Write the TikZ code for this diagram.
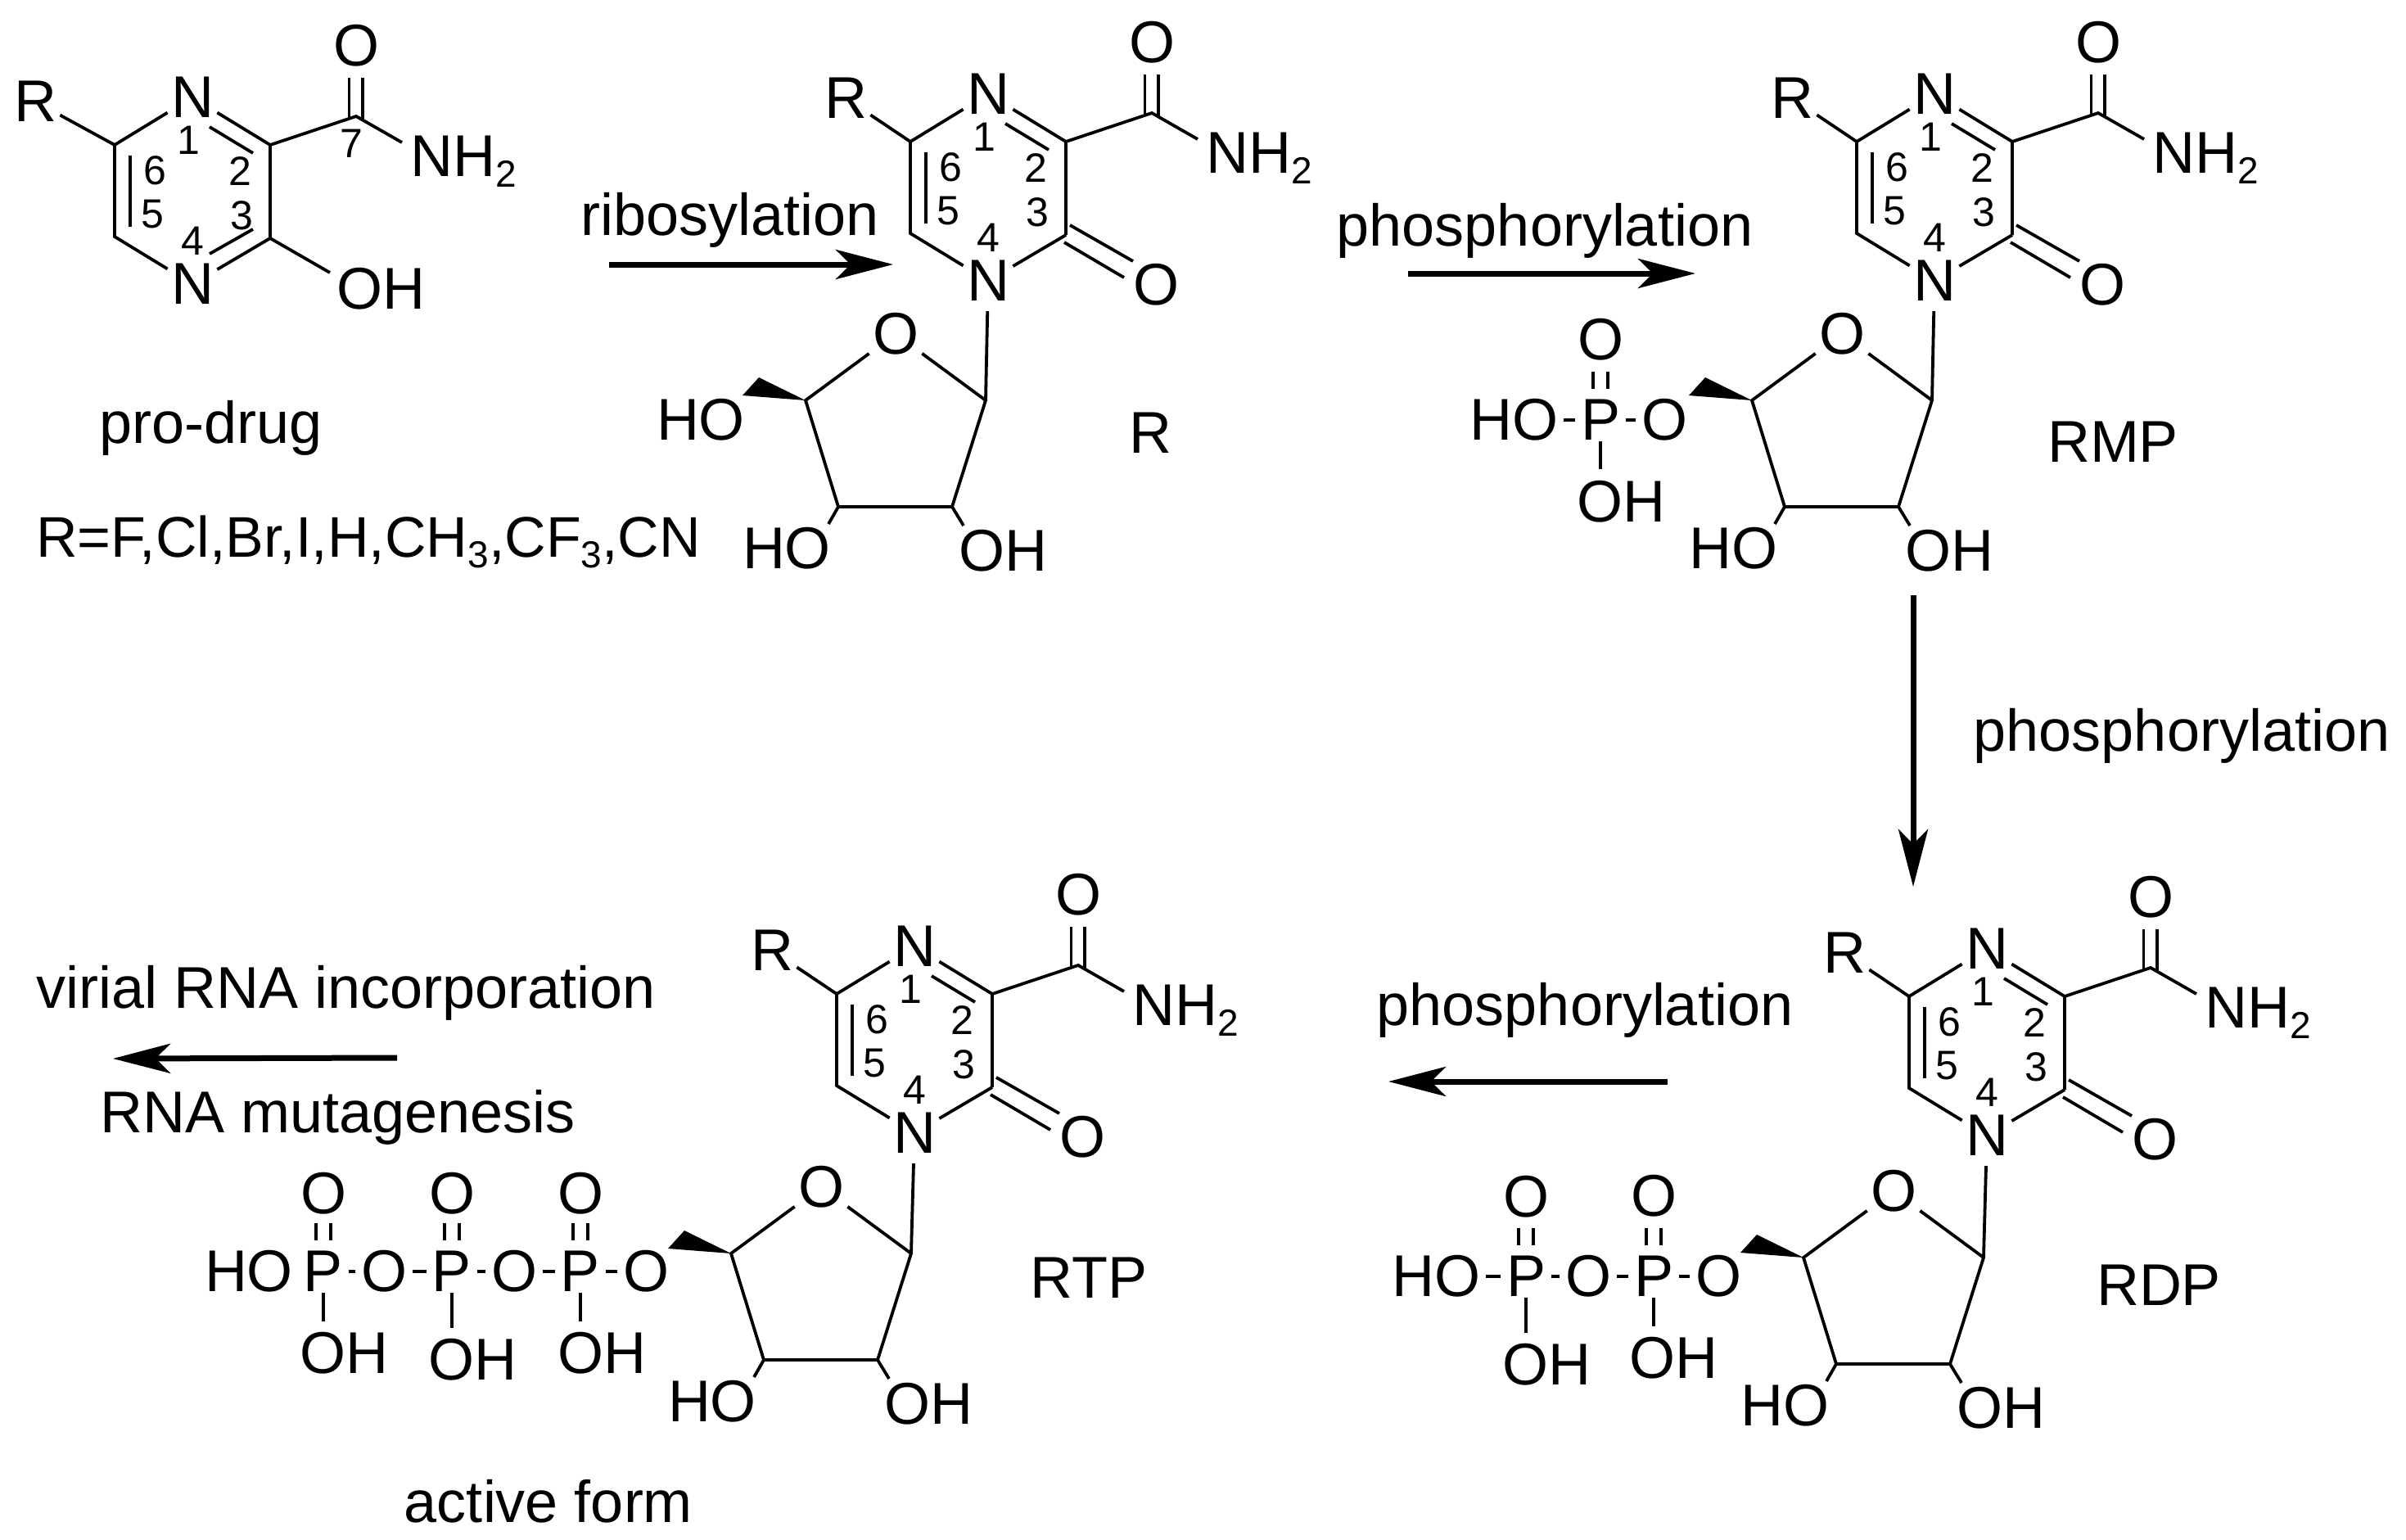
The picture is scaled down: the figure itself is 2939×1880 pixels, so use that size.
\documentclass[tikz,border=0pt]{standalone}
\usepackage{fontspec}
\setmainfont{Liberation Sans}
\usetikzlibrary{arrows.meta}
\newcommand{\bigf}{\fontsize{36}{40}\selectfont}
\newcommand{\listf}{\fontsize{35}{40}\selectfont}
\newcommand{\smallf}{\fontsize{25}{28}\selectfont}
\newcommand{\subf}{\fontsize{23}{26}\selectfont}
\newcommand{\subs}[1]{\raisebox{-6.5pt}{\subf #1}}
\tikzset{
  atom/.style={inner sep=2pt,font=\bigf},
  patom/.style={inner sep=3.5pt,font=\bigf},
  lab/.style={inner sep=0pt,font=\bigf},
  num/.style={inner sep=0pt,font=\smallf},
  bond/.style={line width=1.9pt,line cap=butt,line join=miter},
  thin bond/.style={line width=1.7pt},
  rxn/.style={line width=3.5pt,-{Stealth[length=35pt,width=18pt,inset=9pt]}},
  wedge/.style={fill=black,draw=none}
}
% ring: name, dx, dy, R x
\newcommand{\ringcore}[4]{%
\begin{scope}[shift={(#2,#3)}]
 \coordinate (#1c6) at (140,177); \coordinate (#1c2) at (330,177);
 \coordinate (#1c3) at (330,291); \coordinate (#1c5) at (140,289);
 \coordinate (#1c7) at (435,142);
 \node[atom] (#1n1) at (235,119) {N};
 \node[atom] (#1n4) at (235,347) {N};
 \node[atom] (#1r) at (#4,124) {R};
 \node[atom] (#1o7) at (435,56) {O};
 \node[lab,anchor=west] (#1nh) at (501,197) {NH\subs{2}};
 \coordinate (#1nhb) at (491,174);
 \coordinate (#1i1) at (256,155); \coordinate (#1i2) at (309,187);
 \coordinate (#1i3) at (159,190); \coordinate (#1i4) at (159,277);
 \coordinate (#1d1) at (426.5,95); \coordinate (#1d2) at (426.5,143);
 \coordinate (#1d3) at (443,95); \coordinate (#1d4) at (443,145);
 \draw[bond] (#1r) -- (#1c6) -- (#1n1);
 \draw[bond] (#1n1) -- (#1c2) -- (#1c3);
 \draw[bond] (#1c6) -- (#1c5) -- (#1n4);
 \draw[bond] (#1i1) -- (#1i2);
 \draw[thin bond] (#1i3) -- (#1i4);
 \draw[bond] (#1c2) -- (#1c7) -- (#1nhb);
 \draw[bond] (#1d1) -- (#1d2); \draw[bond] (#1d3) -- (#1d4);
 \node[num] (#1l1) at (230,171) {1};
 \node[num] (#1l2) at (293,209) {2};
 \node[num] (#1l3) at (295,263) {3};
 \node[num] (#1l4) at (235,294) {4};
 \node[num] (#1l5) at (186,262) {5};
 \node[num] (#1l6) at (189,208) {6};
\end{scope}}
% keto part
\newcommand{\keto}[3]{%
\begin{scope}[shift={(#2,#3)}]
 \node[atom] (#1ok) at (440,352) {O};
 \coordinate (#1k1) at (335,279); \coordinate (#1k2) at (412,323);
 \coordinate (#1k3) at (328,300); \coordinate (#1k4) at (401,343);
 \draw[bond] (#1c3) -- (#1n4);
 \draw[bond] (#1k1) -- (#1k2); \draw[bond] (#1k3) -- (#1k4);
\end{scope}}
% sugar in frame of molecule R
\newcommand{\sugar}[3]{%
\begin{scope}[shift={(#2,#3)}]
 \coordinate (#1s1) at (1204,489); \coordinate (#1s2) at (1163,619);
 \coordinate (#1s3) at (1024,619); \coordinate (#1s4) at (984,489);
 \node[atom] (#1so) at (1094,408) {O};
 \node[atom] (#1oh3) at (961,670) {HO};
 \node[atom] (#1oh2) at (1225,673) {OH};
 \coordinate (#1e3) at (1012,640); \coordinate (#1e2) at (1177,642);
 \coordinate (#1w1) at (927,461); \coordinate (#1w2) at (907,483);
 \draw[bond] (#1so) -- (#1s1) -- (#1s2) -- (#1s3) -- (#1s4) -- (#1so);
 \draw[bond] (#1s3) -- (#1e3); \draw[bond] (#1s2) -- (#1e2);
 \fill[wedge] (#1s4) -- (#1w1) -- (#1w2) -- cycle;
\end{scope}}
% phosphate: name, P x, y, O top y, OH x, OH y, single end y
\newcommand{\phos}[7]{%
 \node[patom] (#1p) at (#2,#3) {P};
 \node[atom] (#1t) at (#2,#4) {O};
 \node[atom] (#1oh) at (#5,#6) {OH};
 \coordinate (#1a) at ({#2-9},{#3-59}); \coordinate (#1b) at ({#2-9},{#3-38});
 \coordinate (#1c) at ({#2+9},{#3-59}); \coordinate (#1d) at ({#2+9},{#3-38});
 \coordinate (#1e) at (#2,{#3+26}); \coordinate (#1f) at (#2,#7);
 \draw[thin bond] (#1a) -- (#1b); \draw[thin bond] (#1c) -- (#1d);
 \draw[thin bond] (#1e) -- (#1f);}
\begin{document}
\begin{tikzpicture}[x=0.5pt,y=-0.5pt]
\useasboundingbox (0,0) rectangle (2939,1880);
\fill[white] (0,0) rectangle (2939,1880);
% pro-drug
\ringcore{a}{0}{0}{43}
\node[atom] (aoh) at (465,353) {OH};
\coordinate (aoe) at (403,333);
\coordinate (ai5) at (309,280); \coordinate (ai6) at (256,310);
\draw[bond] (ac3) -- (an4); \draw[bond] (ai5) -- (ai6);
\draw[bond] (ac3) -- (aoe);
\node[num] (al7) at (429,175) {7};
% R
\ringcore{b}{972}{-4}{61} \keto{b}{972}{-4} \sugar{b}{0}{0}
\node[atom] (bho) at (856,513) {HO};
\draw[bond,shorten <=4pt] (bn4) -- (bs1);
% RMP
\ringcore{c}{2128}{-4}{61} \keto{c}{2128}{-4} \sugar{c}{1156}{0}
\draw[bond,shorten <=4pt] (cn4) -- (cs1);
\node[patom] (cho) at (1849,513) {HO};
\phos{cx}{1955}{513}{415}{1980}{613}{573}
\node[patom] (co1) at (2033.5,513) {O};
\draw[thin bond] (cho) -- (cxp); \draw[thin bond] (cxp) -- (co1);
% RDP
\ringcore{d}{2192}{1040}{61} \keto{d}{2192}{1040} \sugar{d}{1219}{1047}
\draw[bond,shorten <=4pt] (dn4) -- (ds1);
\node[patom] (dho) at (1754,1559) {HO};
\phos{dx}{1864}{1559}{1462}{1889}{1667}{1628}
\node[patom] (do1) at (1940,1559) {O};
\phos{dy}{2020}{1559}{1461}{2044}{1659}{1620}
\node[patom] (do2) at (2099,1559) {O};
\draw[thin bond] (dho) -- (dxp); \draw[thin bond] (dxp) -- (do1);
\draw[thin bond] (do1) -- (dyp); \draw[thin bond] (dyp) -- (do2);
% RTP
\ringcore{e}{882}{1037}{61} \keto{e}{882}{1037} \sugar{e}{-91}{1042}
\draw[bond,shorten <=4pt] (en4) -- (es1);
\node[patom] (eho) at (304,1553) {HO};
\phos{ex}{395}{1553}{1458}{420}{1653}{1614}
\node[patom] (eo1) at (469,1553) {O};
\phos{ey}{552}{1553}{1458}{577}{1661}{1622}
\node[patom] (eo2) at (628,1553) {O};
\phos{ez}{709}{1553}{1458}{735}{1653}{1614}
\node[patom] (eo3) at (789,1553) {O};
\draw[thin bond] (exp) -- (eo1); \draw[thin bond] (eo1) -- (eyp);
\draw[thin bond] (eyp) -- (eo2); \draw[thin bond] (eo2) -- (ezp);
\draw[thin bond] (ezp) -- (eo3);
% labels
\node[lab] (prodrug) at (258,523) {pro-drug};
\node[lab,font=\listf,anchor=west] (rlist) at (44,662) {R=F,Cl,Br,I,H,CH\subs{3},CF\subs{3},CN};
\node[lab] (nameR) at (1405,529) {R};
\node[lab] (nameRMP) at (2581,540) {RMP};
\node[lab] (nameRDP) at (2637,1570) {RDP};
\node[lab] (nameRTP) at (1330,1561) {RTP};
\node[lab] (active) at (670,1834) {active form};
\node[lab] (vrna) at (423,1213) {virial RNA incorporation};
\node[lab] (mut) at (413,1365) {RNA mutagenesis};
\node[lab] (tr) at (892,269) {ribosylation};
\node[lab] (t1) at (1887,282) {phosphorylation};
\node[lab] (t2) at (2665,899) {phosphorylation};
\node[lab] (t3) at (1936,1234) {phosphorylation};
% arrows
\coordinate (r1) at (744,323); \coordinate (r2) at (1091,323);
\coordinate (p1) at (1720,334); \coordinate (p2) at (2071,334);
\coordinate (q1) at (2337,727); \coordinate (q2) at (2337,1083);
\coordinate (s1) at (2037,1321); \coordinate (s2) at (1696,1321);
\coordinate (u1) at (485,1292); \coordinate (u2) at (138,1293);
\draw[rxn] (r1) -- (r2);
\draw[rxn] (p1) -- (p2);
\draw[rxn] (q1) -- (q2);
\draw[rxn] (s1) -- (s2);
\draw[rxn] (u1) -- (u2);
\end{tikzpicture}
\end{document}
